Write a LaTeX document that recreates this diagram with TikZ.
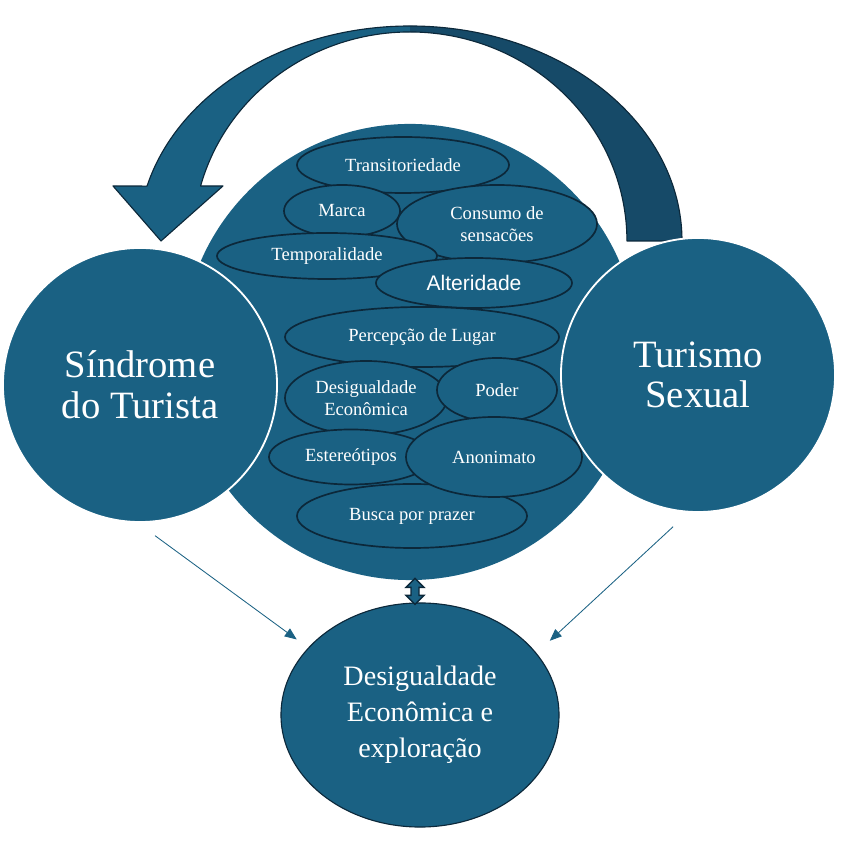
\documentclass[tikz,border=0pt]{standalone}
\usepackage{fontspec}
\setmainfont{Liberation Serif}
\newfontfamily\altfont{Liberation Sans}
\usepackage{tikz}
\usetikzlibrary{calc,arrows.meta,shapes.geometric}
\definecolor{ocean}{RGB}{26,97,131}
\definecolor{deepocean}{RGB}{22,74,104}
\definecolor{rim}{RGB}{12,40,58}

\begin{document}
\begin{tikzpicture}[x=0.025cm,y=0.025cm,
   disc/.style={circle,fill=ocean,inner sep=0pt},
   side/.style={circle,fill=ocean,draw=white,line width=1.3pt,inner sep=0pt,minimum size=6.85cm,text=white,align=center,font=\fontsize{27.5}{29}\selectfont},
   blob/.style={ellipse,fill=ocean,draw=rim,line width=1.2pt,inner sep=0pt,text=white,align=center,font=\fontsize{13.2}{15.6}\selectfont},
   goal/.style={ellipse,fill=ocean,draw=rim,line width=0.8pt,inner sep=0pt,text=white,align=center,minimum width=6.95cm,minimum height=5.6cm,font=\fontsize{20}{25.5}\selectfont},
   link/.style={draw=ocean,line width=0.6pt,-{Triangle[length=3mm,width=2.4mm]}}]
   \useasboundingbox (0,0) rectangle (850,867);
   % curved arrow on top
   \fill[deepocean] (410,841) arc[start angle=90,end angle=0,x radius=272,y radius=215] -- (627,626) arc[start angle=0,end angle=90,x radius=217,y radius=209] -- cycle;
   \fill[ocean] (410,841) arc[start angle=90,end angle=165.2,x radius=272,y radius=215] -- (113,681) -- (161,626) -- (223,681) -- (200.6,681) arc[start angle=164.74,end angle=90,x radius=217,y radius=209] -- cycle;
   \draw[rim,line width=0.8pt,line join=round] (682,626) arc[start angle=0,end angle=165.2,x radius=272,y radius=215] -- (113,681) -- (161,626) -- (223,681) -- (200.6,681) arc[start angle=164.74,end angle=0,x radius=217,y radius=209] -- cycle;
   \node[disc,minimum size=11.4cm] (core) at (410,515) {};
   \node[blob,minimum width=5.3cm,minimum height=1.4cm] (trans) at (403,702) {Transitoriedade};
   \node[blob,minimum width=2.9cm,minimum height=1.3cm] (marca) at (342,656) {Marca};
   \node[blob,minimum width=5cm,minimum height=1.95cm] (consumo) at (497,643) {Consumo de\\sensacões};
   \node[blob,minimum width=5.5cm,minimum height=1.15cm] (tempo) at (327,611) {Temporalidade};
   \node[blob,minimum width=4.9cm,minimum height=1.25cm,font=\altfont\fontsize{15}{18}\selectfont] (alter) at (474,584) {Alteridade};
   \node[blob,minimum width=6.85cm,minimum height=1.5cm] (lugar) at (422,530) {Percepção de Lugar};
   \node[blob,minimum width=5.75cm,minimum height=1.6cm] (prazer) at (412,351) {Busca por prazer};
   \node[blob,minimum width=4.05cm,minimum height=1.85cm] (desec) at (366,469) {Desigualdade\\Econômica};
   \node[blob,minimum width=3cm,minimum height=1.6cm] (poder) at (497,477) {Poder};
   \node[blob,minimum width=4.1cm,minimum height=1.375cm] (estereo) at (351,410) {Estereótipos};
   \node[blob,minimum width=4.4cm,minimum height=2cm] (anon) at (494,410) {Anonimato};
   \node[side] (sind) at (140,482) {Síndrome\\do Turista};
   \node[side] (sexo) at (698,492) {Turismo\\Sexual};
   \node[goal] (desig) at (420,152) {Desigualdade\\Econômica e\\exploração};
   % links to the bottom
   \draw[link,shorten <=0.54cm,shorten >=0.35cm] (sind.-91) -- (desig.149);
   \draw[link,shorten <=0.52cm,shorten >=0.45cm] (sexo.-94.5) -- (desig.28);
   \path ($(core.south)!0.5!(desig.north)$) coordinate (mid);
   \filldraw[fill=ocean,draw=rim,line width=0.9pt] (mid) ++(0,13) -- ++(-9,-9) -- ++(5,0) -- ++(0,-8) -- ++(-5,0) -- ++(9,-9) -- ++(9,9) -- ++(-5,0) -- ++(0,8) -- ++(5,0) -- cycle;
\end{tikzpicture}
\end{document}
